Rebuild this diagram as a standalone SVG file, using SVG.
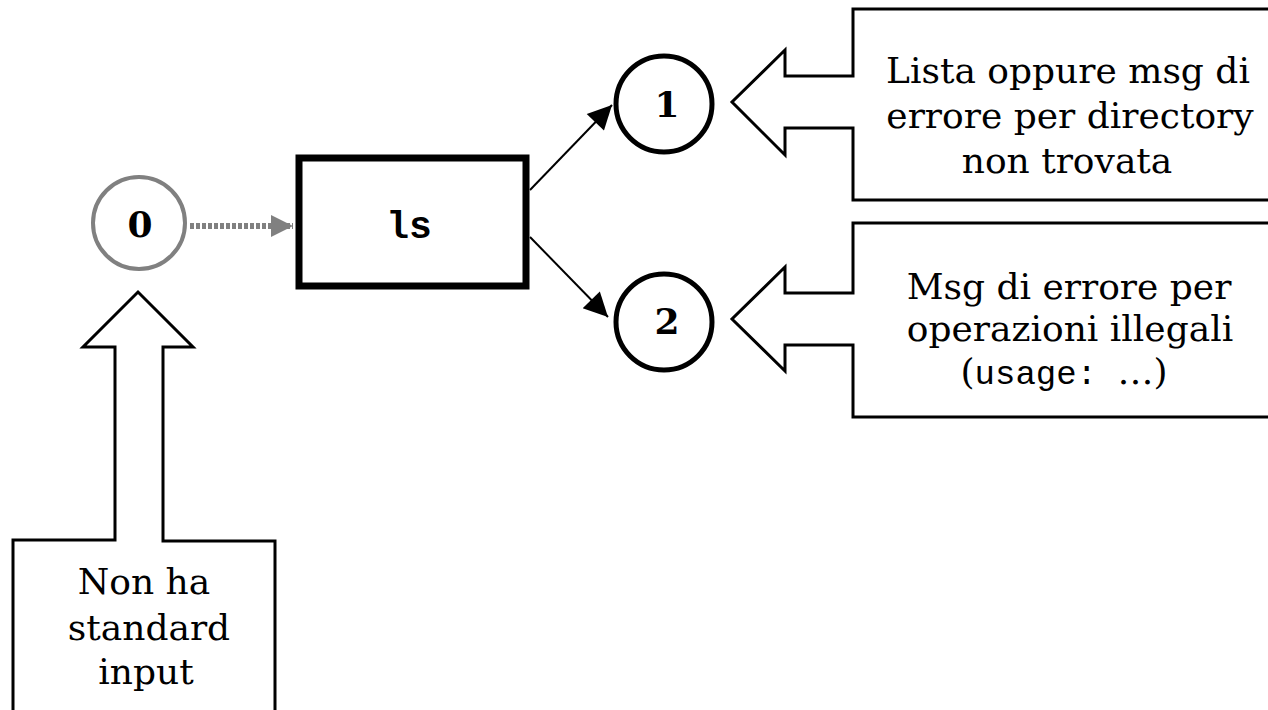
<svg xmlns="http://www.w3.org/2000/svg" width="1268" height="710" viewBox="0 0 1268 710">
<defs>
<style>
.callout{fill:#fff;stroke:#000;stroke-width:3}
.lbl{font-family:"DejaVu Serif",serif;font-size:36px;fill:#000;text-anchor:middle}
.num{font-family:"DejaVu Serif",serif;font-weight:bold;font-size:36px;fill:#000;text-anchor:middle}
.mono{font-family:"Liberation Mono","DejaVu Sans Mono",monospace}
.fd{fill:#fff;stroke:#000;stroke-width:5}
</style>
<marker id="ah" viewBox="0 0 10 10" refX="10" refY="5" markerWidth="28" markerHeight="24" markerUnits="userSpaceOnUse" orient="auto"><path d="M0,0 L10,5 L0,10 z" fill="#000"/></marker>
<marker id="ahg" viewBox="0 0 10 10" refX="10" refY="5" markerWidth="26" markerHeight="22" markerUnits="userSpaceOnUse" orient="auto"><path d="M0,0 L10,5 L0,10 z" fill="#808080"/></marker>
</defs>
<rect width="1268" height="710" fill="#fff"/>
<g id="connectors">
<line x1="190" y1="226" x2="293" y2="226" stroke="#808080" stroke-width="6" stroke-dasharray="4,2" marker-end="url(#ahg)"/>
<line x1="530" y1="190" x2="612" y2="105" stroke="#000" stroke-width="2" marker-end="url(#ah)"/>
<line x1="530" y1="237" x2="608" y2="317" stroke="#000" stroke-width="2" marker-end="url(#ah)"/>
</g>
<g id="fd0">
<circle cx="139" cy="223" r="46" fill="#fff" stroke="#808080" stroke-width="4"/>
<text class="num" x="140" y="237">0</text>
</g>
<g id="ls">
<rect x="299" y="158" width="227" height="128" fill="#fff" stroke="#000" stroke-width="7"/>
<text class="mono" x="409" y="238" font-size="38" font-weight="bold" text-anchor="middle">ls</text>
</g>
<g id="fd1">
<circle class="fd" cx="664" cy="104" r="48"/>
<text class="num" x="667" y="117">1</text>
</g>
<g id="fd2">
<circle class="fd" cx="664" cy="322" r="48"/>
<text class="num" x="667" y="334">2</text>
</g>
<g id="callout1">
<path class="callout" d="M1275,9 L853,9 L853,76 L785,76 L785,50 L732,102 L785,155 L785,128 L853,128 L853,200 L1275,200"/>
<text class="lbl" x="1068" y="83">Lista oppure msg di</text>
<text class="lbl" x="1070" y="128">errore per directory</text>
<text class="lbl" x="1067" y="173">non trovata</text>
</g>
<g id="callout2">
<path class="callout" d="M1275,223 L853,223 L853,293 L785,293 L785,267 L732,319 L785,371 L785,345 L853,345 L853,417 L1275,417"/>
<text class="lbl" x="1069" y="299">Msg di errore per</text>
<text class="lbl" x="1070" y="341">operazioni illegali</text>
<text class="lbl" x="1064" y="384">(<tspan class="mono" font-size="34">usage: </tspan>…)</text>
</g>
<g id="callout3">
<path class="callout" d="M13,715 L13,540 L115,540 L115,347 L83,347 L138,292 L193,347 L163,347 L163,541 L275,541 L275,715"/>
<text class="lbl" x="144" y="594">Non ha</text>
<text class="lbl" x="149" y="640">standard</text>
<text class="lbl" x="146" y="684">input</text>
</g>
</svg>
